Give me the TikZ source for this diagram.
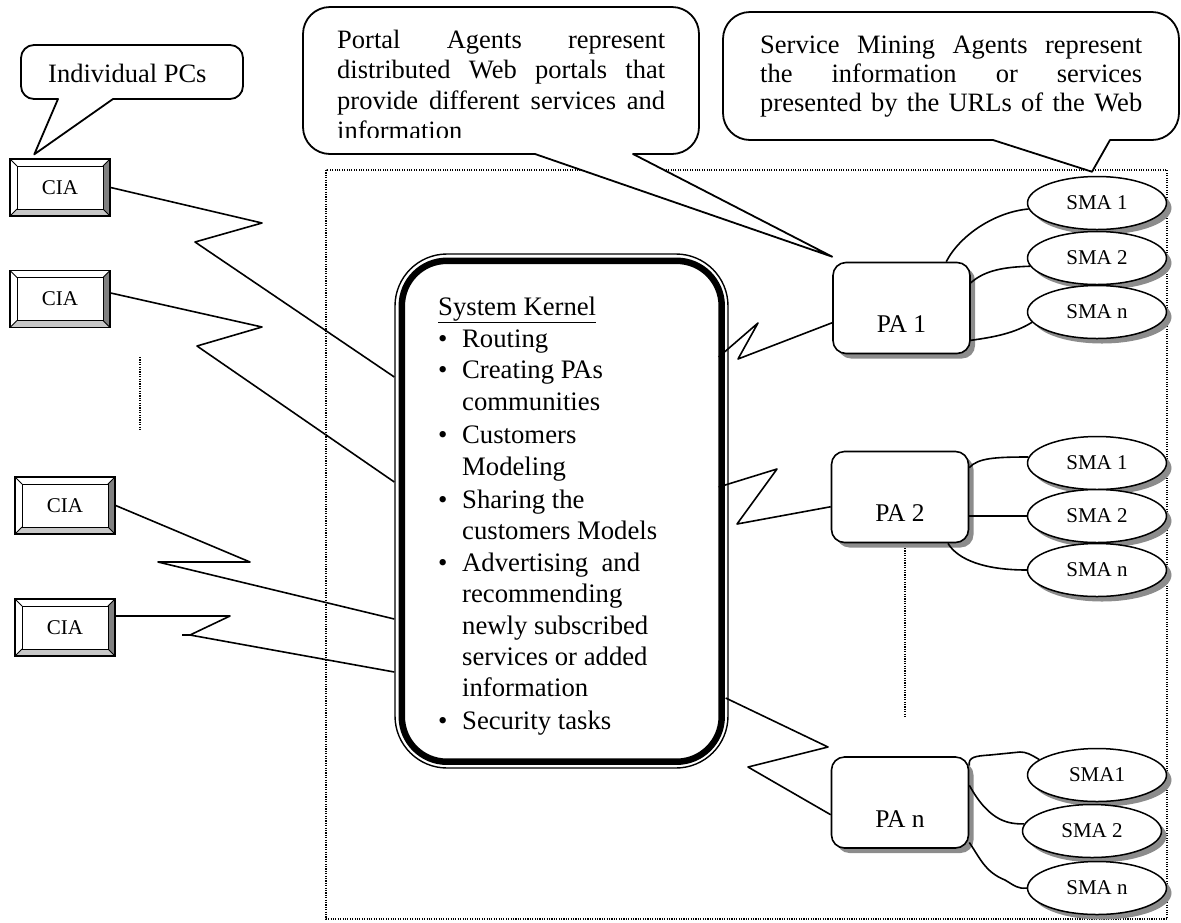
\documentclass[tikz,border=0pt]{standalone}
\usepackage{fontspec}
\setmainfont{Liberation Serif}
\usetikzlibrary{shadows,shapes.geometric}
\newcommand\kbul[1]{\makebox[24pt][l]{\textbullet}#1}
\newcommand\kcont[1]{\hspace*{24pt}#1}
\begin{document}
\begin{tikzpicture}[x=1pt,y=-1pt,
  conn/.style={line width=1.6pt, line join=round},
  dots/.style={line width=1.2pt, dash pattern=on 1.1pt off 1.3pt},
  callout/.style={draw, fill=white, line width=1.8pt, line join=round},
  shadowed/.style={drop shadow={shadow xshift=5pt, shadow yshift=-5pt, fill=black!45, opacity=1}},
  ciabox/.style={draw, line width=1.4pt, fill=white, minimum width=100pt, minimum height=57pt,
    inner sep=0pt, font=\fontsize{21}{21}\selectfont,
    path picture={
      \fill[black!22] (path picture bounding box.south west) -- (path picture bounding box.south east)
        -- ([shift={(-7pt,7pt)}]path picture bounding box.south east)
        -- ([shift={(7pt,7pt)}]path picture bounding box.south west) -- cycle;
      \fill[black!50] (path picture bounding box.north east) -- (path picture bounding box.south east)
        -- ([shift={(-7pt,7pt)}]path picture bounding box.south east)
        -- ([shift={(-7pt,-7pt)}]path picture bounding box.north east) -- cycle;
      \draw[line width=0.9pt] ([shift={(7pt,-7pt)}]path picture bounding box.north west)
        rectangle ([shift={(-7pt,7pt)}]path picture bounding box.south east);
      \draw[line width=0.9pt] (path picture bounding box.north west) -- ++(7pt,-7pt);
      \draw[line width=0.9pt] (path picture bounding box.north east) -- ++(-7pt,-7pt);
      \draw[line width=0.9pt] (path picture bounding box.south west) -- ++(7pt,7pt);
      \draw[line width=0.9pt] (path picture bounding box.south east) -- ++(-7pt,7pt);
    }},
  pabox/.style={draw, fill=white, line width=1.6pt, rounded corners=13pt, minimum width=137pt,
    minimum height=91pt, inner sep=0pt, text height=49pt, text depth=0pt,
    font=\fontsize{25.5}{25.5}\selectfont, shadowed},
  sma/.style={ellipse, draw, fill=white, line width=1.5pt, minimum width=139pt, minimum height=53pt,
    inner sep=0pt, font=\fontsize{21}{21}\selectfont, shadowed},
  ktext/.style={anchor=base west, inner sep=0pt, font=\fontsize{26.7}{26.7}\selectfont},
  ctext/.style={anchor=base west, inner sep=0pt, font=\fontsize{26.5}{26.5}\selectfont},
]
\useasboundingbox (0,0) rectangle (1181,922);

% dotted frames
\draw[dots] (326,170) rectangle (1167,919);
\draw[dots] (905,548) -- (905,717);
\draw[dots] (140,357) -- (140,430);

% kernel
\node[draw, line width=1.4pt, rounded corners=52pt, minimum width=333pt, minimum height=514pt,
  fill=white] (kernel) at (561.5,511) {};
\draw[line width=6.5pt, rounded corners=45pt]
  ([shift={(7.5pt,-7.5pt)}]kernel.north west) rectangle ([shift={(-7pt,7pt)}]kernel.south east);
\foreach \yy/\kt [count=\i] in {315/{\underline{System Kernel}}, 347/{\kbul{Routing}},
  378/{\kbul{Creating PAs}}, 410/{\kcont{communities}}, 443/{\kbul{Customers}},
  475/{\kcont{Modeling}}, 508/{\kbul{Sharing the}}, 539/{\kcont{customers Models}},
  571/{\kbul{Advertising\ \ and}}, 602/{\kcont{recommending}}, 634/{\kcont{newly subscribed}},
  665/{\kcont{services or added}}, 696/{\kcont{information}}, 729/{\kbul{Security tasks}}}
  \node[ktext] (k\i) at (438,\yy) {\kt};

% CIA boxes
\node[ciabox] (cia1) at (60,187.5) {CIA};
\node[ciabox] (cia2) at (60,299) {CIA};
\node[ciabox] (cia3) at (65,505.5) {CIA};
\node[ciabox] (cia4) at (65,627.5) {CIA};

% PA boxes
\node[pabox] (pa1) at (901.5,308) {PA 1};
\node[pabox] (pa2) at (900,497) {PA 2};
\node[pabox] (pan) at (900,802.5) {PA n};

% SMA ellipses
\node[sma] (a1) at (1097,203) {SMA 1};
\node[sma] (a2) at (1097,258) {SMA 2};
\node[sma] (a3) at (1097,312) {SMA n};
\node[sma] (b1) at (1097,463) {SMA 1};
\node[sma] (b2) at (1097,516) {SMA 2};
\node[sma] (b3) at (1097,570) {SMA n};
\node[sma] (c1) at (1097,775) {SMA1};
\node[sma] (c2) at (1092,831) {SMA 2};
\node[sma] (c3) at (1097,888) {SMA n};

% CIA -> kernel
\draw[conn] (cia1.east) -- (262,223) -- (195,242) -- ([yshift=134pt]kernel.west);
\draw[conn] ([yshift=6pt]cia2.east) -- (262,327) -- (197,346) -- ([yshift=29pt]kernel.west);
\draw[conn] (cia3.east) -- (250,562) -- (158,562) -- ([yshift=-108pt]kernel.west);
\draw[conn] ([yshift=11.5pt]cia4.east) -- (230,616) -- (190,635) -- ([yshift=-161pt]kernel.west);
\draw[conn] (182,635) -- (190,635);

% kernel -> PA
\draw[conn] ([shift={(-10pt,154pt)}]kernel.east) -- (758,323) -- (738,359) -- (pa1.192);
\draw[conn] ([shift={(-10pt,24pt)}]kernel.east) -- (777,469) -- (737,524) -- (pa2.188);
\draw[conn] ([shift={(-3pt,-187pt)}]kernel.east) -- (828,747) -- (748,767) -- (pan.190);

% PA -> SMA
\draw[conn] (pa1.46) .. controls (960,235) and (995,212) .. (a1.185);
\draw[conn] (pa1.20) .. controls (985,270) and (1005,267) .. (a2.187);
\draw[conn] (pa1.335) .. controls (995,337) and (1015,333) .. (a3.189);
\draw[conn] (pa2.23) .. controls (978,458) and (995,457) .. (b1.175);
\draw[conn] (pa2.east |- b2.west) -- (b2.west);
\draw[conn] (pa2.316) .. controls (958,560) and (985,570) .. (b3.west);
\draw[conn] (pan.28) .. controls (968,757) and (975,756) .. (990,755) -- (1020,752)
  .. controls (1026,752) and (1030,754) .. (c1.165);
\draw[conn] (pan.14) .. controls (990,823) and (1010,824) .. (c2.174);
\draw[conn] (pan.330) .. controls (980,858) and (985,872) .. (1005,880)
  .. controls (1015,886) and (1018,889) .. (c3.west);

% callouts
\draw[callout] (58,99) -- ([shift={(25,-4)}]cia1.north west) -- (113,99) -- (230,99)
  arc[start angle=90, end angle=0, radius=13] -- (243,58)
  arc[start angle=0, end angle=-90, radius=13] -- (34,45)
  arc[start angle=-90, end angle=-180, radius=13] -- (21,86)
  arc[start angle=180, end angle=90, radius=13] -- cycle;
\node[ctext] (pcs) at (48,82) {Individual PCs};

\draw[callout] (535,154) -- ([shift={(0,-5)}]pa1.north west) -- (633,154) -- (672,154)
  arc[start angle=90, end angle=0, radius=27] -- (699,34)
  arc[start angle=0, end angle=-90, radius=27] -- (330,7)
  arc[start angle=-90, end angle=-180, radius=27] -- (303,127)
  arc[start angle=180, end angle=90, radius=27] -- cycle;
\begin{scope}
  \clip (300,0) rectangle (700,137.5);
  \node[ctext] (p1) at (337,48) {\makebox[328pt][s]{Portal Agents represent}};
  \node[ctext] (p2) at (337,78.5) {\makebox[328pt][s]{distributed Web portals that}};
  \node[ctext] (p3) at (337,109) {\makebox[328pt][s]{provide different services and}};
  \node[ctext] (p4) at (337,139.5) {information};
\end{scope}

\draw[callout] (993,140) -- ([shift={(-5,-4)}]a1.north) -- (1110,140) -- (1152,140)
  arc[start angle=90, end angle=0, radius=27] -- (1179,39)
  arc[start angle=0, end angle=-90, radius=27] -- (750,12)
  arc[start angle=-90, end angle=-180, radius=27] -- (723,113)
  arc[start angle=180, end angle=90, radius=27] -- cycle;
\node[ctext] (s1) at (760,53) {\makebox[382pt][s]{Service Mining Agents represent}};
\node[ctext] (s2) at (760,82) {\makebox[382pt][s]{the information or services}};
\node[ctext] (s3) at (760,111) {\makebox[382pt][s]{presented by the URLs of the Web}};
\end{tikzpicture}
\end{document}
